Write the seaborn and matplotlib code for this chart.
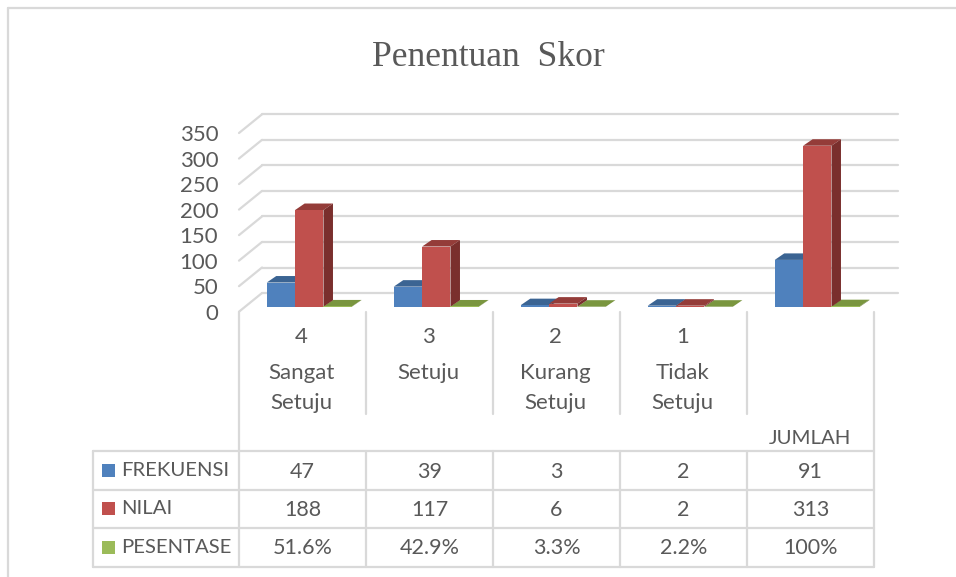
import numpy as np
import pandas as pd
import matplotlib
matplotlib.use('Agg')
import matplotlib.pyplot as plt
from matplotlib.patches import Polygon, Rectangle
import seaborn as sns

kategori = ['4 Sangat Setuju', '3 Setuju', '2 Kurang Setuju', '1 Tidak Setuju', 'JUMLAH']
frekuensi = [47, 39, 3, 2, 91]
nilai = [188, 117, 6, 2, 313]
pesentase = [0.516, 0.429, 0.033, 0.022, 1.0]
label_frekuensi = ['47', '39', '3', '2', '91']
label_nilai = ['188', '117', '6', '2', '313']
label_pesentase = ['51.6%', '42.9%', '3.3%', '2.2%', '100%']
seri = ['FREKUENSI', 'NILAI', 'PESENTASE']
warna = ['#4F81BD', '#C0504D', '#9BBB59']
warna_atas = ['#3B6493', '#943C39', '#7A963F']
warna_sisi = ['#305074', '#7A2F2D', '#62782F']
yticks = [0, 50, 100, 150, 200, 250, 300, 350]
kat_lines = [['4', 'Sangat', 'Setuju'], ['3', 'Setuju'], ['2', 'Kurang', 'Setuju'], ['1', 'Tidak', 'Setuju'], ['JUMLAH']]

W, H = 956, 577
ABU = '#595959'
GARIS = '#D9D9D9'
DX, DY = 9.5, 6.5   # depth of the fake 3d, in pixels


def kotak(l, top, r, bottom):
    # pixel box (from top left) to figure fractions
    return [l / W, 1 - bottom / H, (r - l) / W, (bottom - top) / H]


sns.set_theme(style='white')
plt.rcParams['font.family'] = ['Lato', 'DejaVu Sans']

fig = plt.figure(figsize=(W / 100, H / 100), dpi=100)

# overlay in pixel coordinates for frame and title
base = fig.add_axes([0, 0, 1, 1], zorder=0)
base.set_xlim(0, W)
base.set_ylim(H, 0)
base.axis('off')
base.plot([8, 8], [H, 8], color=GARIS, lw=1.6)
base.plot([8, W], [8, 8], color=GARIS, lw=1.6)
base.text(488.5, 57, 'Penentuan  Skor', ha='center', va='center', color=ABU,
          fontsize=25.6, family='Liberation Serif')

# back wall gridlines
wall = fig.add_axes(kotak(262, 114, 898, 293.3), zorder=1)
wall.set_ylim(0, 350)
wall.set_xlim(0, 1)
wall.axis('off')
for v in yticks:
    wall.axhline(v, color=GARIS, lw=1.6, clip_on=False)

# front edge axis, holds the tick labels
front = fig.add_axes(kotak(239, 133, 262, 311.7), zorder=1)
front.set_ylim(0, 350)
front.set_xlim(0, 1)
front.set_xticks([])
front.set_yticks(yticks)
front.set_yticklabels([str(v) for v in yticks], color=ABU, fontsize=16)
front.tick_params(axis='y', length=0, pad=15)
sns.despine(ax=front, left=True, bottom=True)
front.patch.set_alpha(0)
for v in yticks:
    front.plot([0, 1], [v, v + 18.7 / 179 * 350], color=GARIS, lw=1.6, clip_on=False)

# bars
df = pd.DataFrame({
    'kategori': kategori * 3,
    'seri': np.repeat(seri, 5),
    'nilai': frekuensi + nilai + pesentase,
})
ax = fig.add_axes(kotak(245.8, 126.7, 880.8, 306.7), zorder=2)
sns.barplot(data=df, x='kategori', y='nilai', hue='seri', palette=warna, saturation=1,
            width=0.67, gap=0, legend=False, linewidth=0, ax=ax)
ax.set_xlim(-0.5, 4.5)
ax.set_ylim(0, 350)
ax.axis('off')
ax.patch.set_alpha(0)

px_x = 635 / 5
px_y = 180 / 350
dx = DX / px_x
dy = DY / px_y
# red depth sits over the green top, fronts sit over everything
urutan = [2.2, 2.5, 2.0]
for cont, atas, sisi, z in zip(ax.containers, warna_atas, warna_sisi, urutan):
    for bar in cont:
        bar.set_zorder(3)
        x0 = bar.get_x()
        x1 = x0 + bar.get_width()
        h = bar.get_height()
        ax.add_patch(Polygon([(x0, h), (x1, h), (x1 + dx, h + dy), (x0 + dx, h + dy)],
                             facecolor=atas, edgecolor='none', clip_on=False, zorder=z))
        ax.add_patch(Polygon([(x1, 0), (x1, h), (x1 + dx, h + dy), (x1 + dx, dy)],
                             facecolor=sisi, edgecolor='none', clip_on=False, zorder=z))

# data table
tbl = fig.add_axes([0, 0, 1, 1], zorder=3)
tbl.set_xlim(0, W)
tbl.set_ylim(H, 0)
tbl.axis('off')
tbl.patch.set_alpha(0)
kolom = [239, 366, 493, 620, 747, 874]
baris = [451, 490, 528, 567]
for y in baris:
    tbl.plot([93, 874], [y, y], color=GARIS, lw=1.6)
tbl.plot([93, 93], [451, 567], color=GARIS, lw=1.6)
tbl.plot([239, 239], [312, 567], color=GARIS, lw=1.6)
tbl.plot([874, 874], [312, 567], color=GARIS, lw=1.6)
for x in kolom[1:5]:
    tbl.plot([x, x], [312, 414], color=GARIS, lw=1.6)
    tbl.plot([x, x], [451, 567], color=GARIS, lw=1.6)

for i, lines in enumerate(kat_lines):
    cx = (kolom[i] + kolom[i + 1]) / 2
    if lines[0] == 'JUMLAH':
        tbl.text(cx - 1, 438, lines[0], ha='center', va='center', color=ABU, fontsize=14.7)
        continue
    for line, y in zip(lines, [337, 373, 403]):
        tbl.text(cx - 1, y, line, ha='center', va='center', color=ABU, fontsize=16)

baris_isi = [label_frekuensi, label_nilai, label_pesentase]
for r, (nama, isi, c) in enumerate(zip(seri, baris_isi, warna)):
    cy = (baris[r] + baris[r + 1]) / 2
    tbl.add_patch(Rectangle((102, cy - 7), 13, 13, facecolor=c, edgecolor='none'))
    tbl.text(121, cy, nama, ha='left', va='center', color=ABU, fontsize=14.6)
    for i, s in enumerate(isi):
        tbl.text((kolom[i] + kolom[i + 1]) / 2, cy + 1, s, ha='center', va='center', color=ABU, fontsize=15.5)

fig.savefig('out.png', dpi=100, facecolor='white')
